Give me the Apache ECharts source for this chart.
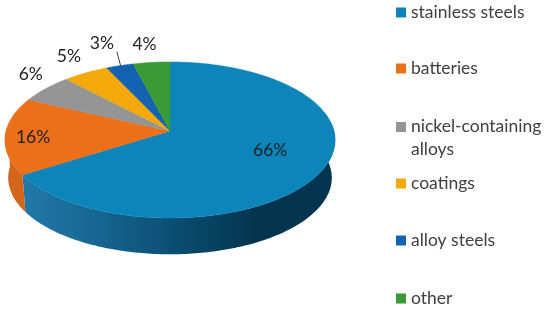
<!DOCTYPE html>
<html>
<head>
<meta charset="utf-8">
<style>
	html, body { margin: 0; padding: 0; background: #fff; }
	#nickelChart { width: 550px; height: 310px; }
</style>
<script src="https://cdn.jsdelivr.net/npm/echarts@6/dist/echarts.min.js"></script>
</head>
<body>
<div id="nickelChart"></div>
<script>
	var categories = ['stainless steels', 'batteries', 'nickel-containing\nalloys', 'coatings', 'alloy steels', 'other'];
	var values = [66, 16, 6, 5, 3, 4];

	var colors = ['#0d85bb', '#ec6f1a', '#959595', '#f5a80c', '#1463b0', '#3a9a36'];
	var labelShift = [[-52, -20], [28, 1], [-15, -14], [-17, -16], [-18, -22], [-7, -18]];
	var legendTops = [1, 57, 115, 172, 229, 287];

	// flattened disc: perspective projection of a circle, so the centre sits above the ellipse middle
	var cx = 170, cy = 131, radiusX = 164, radiusY = 77, tilt = 0.115;
	var depth = 38, rimScale = 0.98;

	var total = values.reduce(function(a, b){ return a + b; }, 0);

	var project = function(deg){
		var rad = deg * Math.PI / 180;
		var w = 1 + tilt * Math.cos(rad);
		return [cx + radiusX * Math.sin(rad) / w, cy - radiusY * Math.cos(rad) / w];
	};

	var lowerRim = function(p){
		return [cx + (p[0] - cx) * rimScale, cy + depth + (p[1] - cy) * rimScale];
	};

	var arc = function(from, to){
		var pts = [];
		for(var a = from; a < to; a += 1){
			pts.push(project(a));
		}
		pts.push(project(to));
		return pts;
	};

	var startAngle = function(index){
		var sum = 0;
		for(var i = 0; i < index; i++){
			sum += values[i];
		}
		return sum / total * 360;
	};

	var wallFill = function(index){
		if(index == 0){
			return new echarts.graphic.LinearGradient(0, 0, 1, 0, [
				{offset: 0, color: '#2378a8'},
				{offset: 0.25, color: '#156590'},
				{offset: 0.52, color: '#0a4a6e'},
				{offset: 0.75, color: '#03344d'},
				{offset: 1, color: '#04344f'}
			]);
		}
		return '#d2661a';
	};

	var renderSlice = function(params, api){
		var i = params.seriesIndex;
		var value = api.value(0);
		var from = startAngle(i);
		var to = from + value / total * 360;
		var children = [];

		// only the front half of the disc shows a side wall
		var wallFrom = Math.max(from, 85);
		var wallTo = Math.min(to, 272);
		if(wallFrom < wallTo){
			var upper = arc(wallFrom, wallTo);
			var lower = upper.map(lowerRim).reverse();
			children.push({
				type: 'polygon',
				shape: {points: upper.concat(lower)},
				style: {fill: wallFill(i)}
			});
		}

		children.push({
			type: 'polygon',
			shape: {points: [[cx, cy]].concat(arc(from, to))},
			style: {fill: colors[i], stroke: colors[i], lineWidth: 0.5}
		});

		var rim = project((from + to) / 2);
		if(categories[i] == 'alloy steels'){
			children.push({
				type: 'line',
				shape: {x1: rim[0] - 3, y1: rim[1] - 14, x2: rim[0] + 1, y2: rim[1] + 1},
				style: {stroke: '#404040', lineWidth: 1}
			});
		}
		children.push({
			type: 'text',
			style: {
				x: rim[0] + labelShift[i][0],
				y: rim[1] + labelShift[i][1],
				text: value + '%',
				fill: '#222',
				font: '17.5px Lato',
				align: 'center',
				verticalAlign: 'middle'
			}
		});

		return {type: 'group', children: children};
	};

	var nickelChart = echarts.init(document.getElementById('nickelChart'));

	nickelChart.setOption({
		animation: false,
		backgroundColor: '#fff',
		tooltip: {show: false},
		legend: categories.map(function(name, i){
			var twoLines = name.indexOf('\n') >= 0;
			return {
				data: [name],
				orient: 'vertical',
				left: 396,
				top: legendTops[i],
				padding: 0,
				selectedMode: false,
				itemWidth: 10,
				itemHeight: twoLines ? 32 : 10,
				itemGap: 0,
				// the tall path keeps the swatch on the first line of the wrapped name
				icon: twoLines ? 'path://M0 0H10V10H0Z M0 32H0.01' : 'rect',
				textStyle: {
					color: '#404040',
					fontFamily: 'Lato',
					fontSize: 17.5,
					lineHeight: 23,
					padding: [0, 0, 0, 0]
				}
			};
		}),
		series: categories.map(function(name, i){
			return {
				type: 'custom',
				name: name,
				coordinateSystem: 'none',
				silent: true,
				itemStyle: {color: colors[i]},
				renderItem: renderSlice,
				data: [[values[i]]]
			};
		})
	});
</script>
</body>
</html>
